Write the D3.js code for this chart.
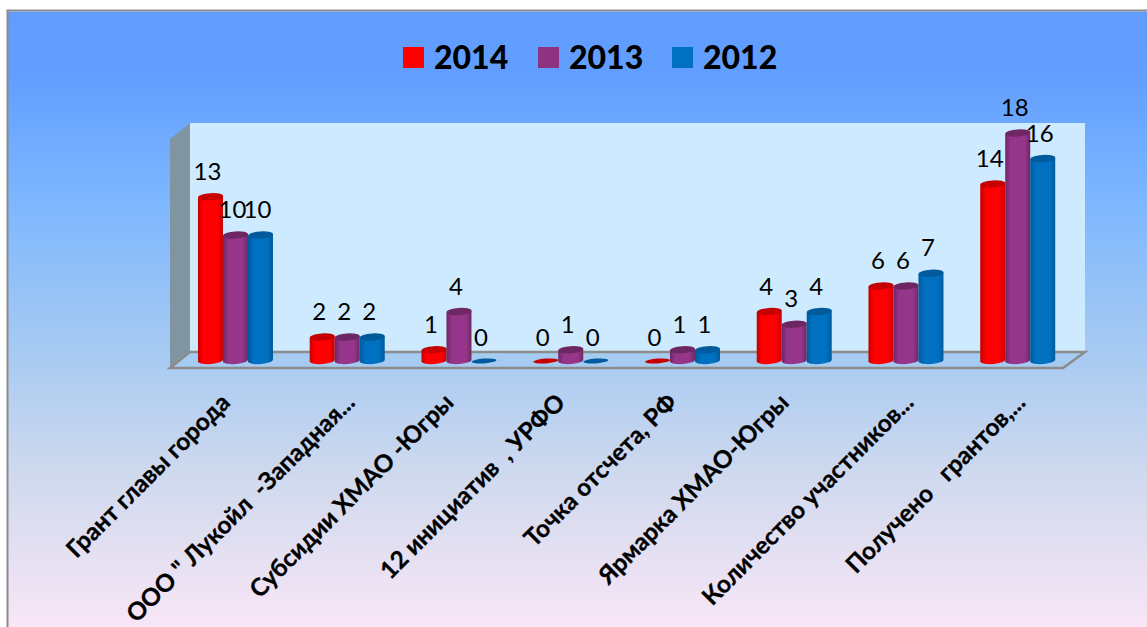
<!DOCTYPE html>
<html><head><meta charset="utf-8">
<script src="https://cdn.jsdelivr.net/npm/d3@7/dist/d3.min.js"></script>
<style>html,body{margin:0;padding:0;background:#fff;overflow:hidden}svg{display:block}text{font-family:Lato,"Open Sans",sans-serif}</style>
</head><body><svg id="c" width="1147" height="627"></svg>
<script>
const categories=["Грант главы города","ООО \" Лукойл  -Западная...","Субсидии ХМАО -Югры","12 инициатив  , УРФО","Точка отсчета, РФ","Ярмарка ХМАО-Югры","Количество участников...","Получено   грантов,..."];
const seriesNames=["2014","2013","2012"];
const values2014=[13,2,1,0,0,4,6,14];
const values2013=[10,2,4,1,1,3,6,18];
const values2012=[10,2,0,0,1,4,7,16];
const colors=["#ff0000","#8e3380","#0070c0"];
const centers=["#ff0000","#96368a","#0070c0"];
const darks=["#c60000","#6e2763","#005a9c"];
const seriesValues=[values2014,values2013,values2012];

const svg=d3.select("#c"),defs=svg.append("defs");
const bg=defs.append("linearGradient").attr("id","bg").attr("x1",0).attr("y1",0).attr("x2",0).attr("y2",1);
[[0,"#609dff"],[.1,"#619eff"],[.3,"#7cb6ff"],[.55,"#a6caf2"],[.75,"#cfd9ee"],[1,"#f8e6f6"]].forEach(s=>bg.append("stop").attr("offset",s[0]).attr("stop-color",s[1]));
colors.forEach((c,i)=>{
  const g=defs.append("linearGradient").attr("id","cyl"+i);
  [[0,darks[i]],[.22,centers[i]],[.78,centers[i]],[1,darks[i]]].forEach(s=>g.append("stop").attr("offset",s[0]).attr("stop-color",s[1]));
});
svg.append("rect").attr("x",8).attr("y",11.5).attr("width",1139).attr("height",616).attr("fill","url(#bg)");
svg.append("path").attr("d","M7.5,627V10.5H1147").attr("fill","none").attr("stroke","#8c8c8c").attr("stroke-width",2);

const x0=d3.scaleBand().domain(categories).range([179.6,1073.6]);
const x1=d3.scaleBand().domain(seriesNames).range([-37.5,37.5]);
const y=d3.scaleLinear().domain([0,18]).range([362.5,133]);
const cx=i=>x0(categories[i])+x0.bandwidth()/2;

svg.append("polygon").attr("points","190,123 1085,123 1085,352 190,352").attr("fill","#cdeafe");
svg.append("polygon").attr("points","170,139 190,123 190,352 170,368").attr("fill","#80959f");
svg.append("polygon").attr("points","170,368 190,352 1085,352 1063,368").attr("fill","#a6cbf0").attr("stroke","#8c8c8c").attr("stroke-width",2.5);

const w=x1.bandwidth(),ry=3.6,tilt=1;
seriesNames.forEach((s,si)=>{
  const g=svg.append("g");
  seriesValues[si].forEach((v,i)=>{
    const l=cx(i)+x1(s),r=l+w,t=y(v),b=y(0)-2;
    if(v>0){
      g.append("path").attr("d",`M${l},${t+tilt}V${b+tilt}A${w/2},${ry} -4 0 0 ${r},${b-tilt}V${t-tilt}Z`).attr("fill",`url(#cyl${si})`);
      g.append("ellipse").attr("rx",w/2).attr("ry",ry).attr("transform",`translate(${l+w/2},${t}) rotate(-4)`).attr("fill",darks[si]);
    } else {
      g.append("ellipse").attr("rx",w/2).attr("ry",2.4).attr("transform",`translate(${l+w/2},${y(0)-1.5}) rotate(-4)`).attr("fill",darks[si]);
    }
  });
});
seriesNames.forEach((s,si)=>{
  seriesValues[si].forEach((v,i)=>{
    svg.append("text").attr("x",cx(i)+x1(s)+w/2-3).attr("y",y(v)-17).attr("text-anchor","middle").attr("font-size",24).attr("fill","#000").text(v);
  });
});
categories.forEach((c,i)=>{
  const shift=c.endsWith("...")?-3:-16;
  svg.append("text").attr("transform",`translate(${cx(i)+shift},${392}) rotate(-45)`).attr("text-anchor","end").attr("dy","0.7em").attr("font-size",24.3).attr("font-weight",700).attr("fill","#000").attr("stroke","#000").attr("stroke-width",0.3).style("white-space","pre").text(c);
});
const lx=[403,538,672];
seriesNames.forEach((s,i)=>{
  svg.append("rect").attr("x",lx[i]).attr("y",47).attr("width",21).attr("height",21).attr("fill",colors[i]);
  svg.append("text").attr("x",lx[i]+31).attr("y",68.5).attr("font-size",32).attr("font-weight",900).attr("fill","#000").text(s);
});
</script></body></html>
